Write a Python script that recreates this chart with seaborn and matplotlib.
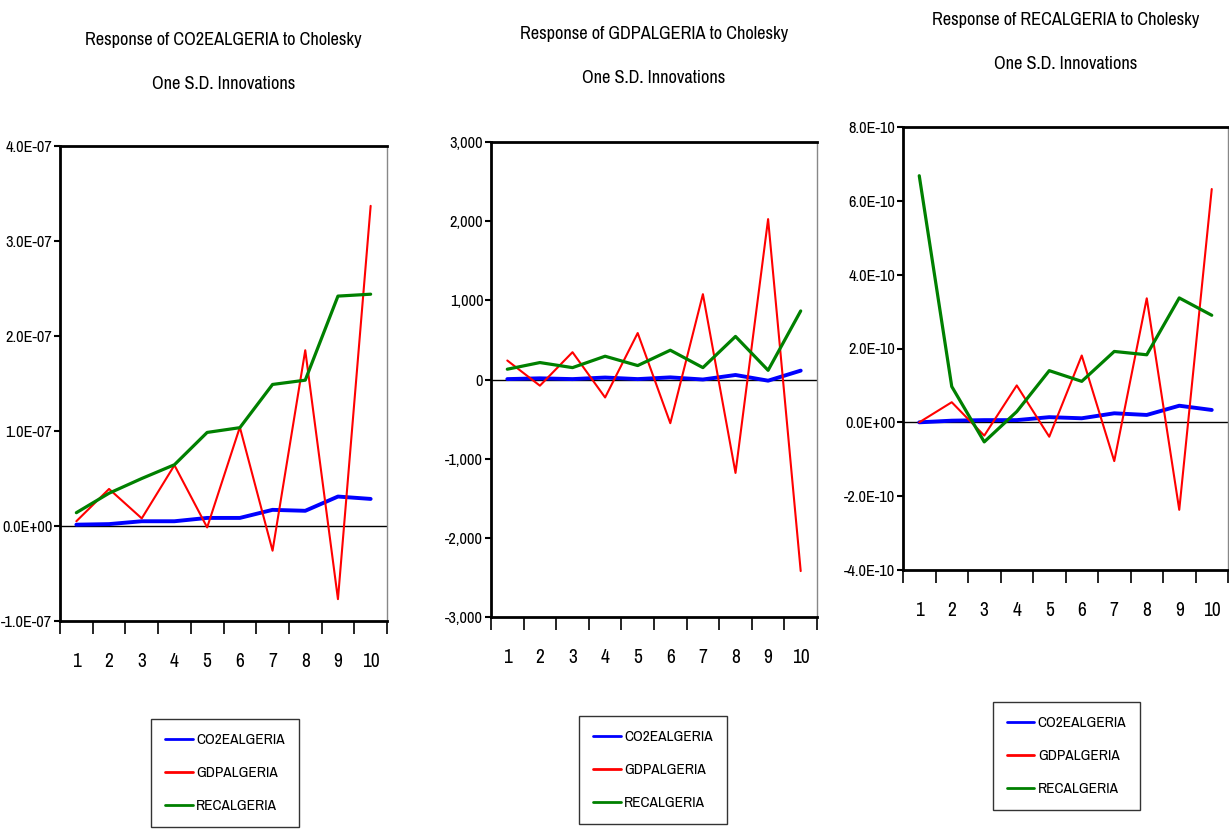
import numpy as np
import pandas as pd
import matplotlib
matplotlib.use("Agg")
import matplotlib.pyplot as plt
import seaborn as sns
from matplotlib.ticker import FuncFormatter

# impulse response data
periods = list(range(1, 11))

co2_resp_co2 = [0.014e-7, 0.02e-7, 0.05e-7, 0.05e-7, 0.085e-7, 0.085e-7, 0.17e-7, 0.16e-7, 0.31e-7, 0.285e-7]
co2_resp_gdp = [0.05e-7, 0.39e-7, 0.08e-7, 0.64e-7, -0.015e-7, 1.04e-7, -0.26e-7, 1.85e-7, -0.77e-7, 3.37e-7]
co2_resp_rec = [0.14e-7, 0.345e-7, 0.5e-7, 0.645e-7, 0.985e-7, 1.035e-7, 1.49e-7, 1.535e-7, 2.42e-7, 2.44e-7]

gdp_resp_co2 = [5, 15, 5, 25, 5, 27, 0, 57, -15, 112]
gdp_resp_gdp = [240, -78, 345, -227, 587, -552, 1078, -1180, 2026, -2420]
gdp_resp_rec = [130, 214, 150, 294, 176, 370, 150, 544, 116, 866]

rec_resp_co2 = [0.0, 0.045e-10, 0.06e-10, 0.06e-10, 0.14e-10, 0.11e-10, 0.245e-10, 0.2e-10, 0.45e-10, 0.335e-10]
rec_resp_gdp = [0.0, 0.545e-10, -0.36e-10, 1.0e-10, -0.39e-10, 1.81e-10, -1.05e-10, 3.36e-10, -2.37e-10, 6.32e-10]
rec_resp_rec = [6.68e-10, 0.97e-10, -0.53e-10, 0.29e-10, 1.40e-10, 1.11e-10, 1.92e-10, 1.83e-10, 3.37e-10, 2.9e-10]

series_names = ["CO2EALGERIA", "GDPALGERIA", "RECALGERIA"]
colors = {"CO2EALGERIA": "#0000ff", "GDPALGERIA": "#ff0000", "RECALGERIA": "#008000"}
widths = {"CO2EALGERIA": 2.8, "GDPALGERIA": 1.5, "RECALGERIA": 2.3}

sns.set_theme(style="white")
# narrow face, close to the Arial Narrow used by EViews
plt.rcParams['font.family'] = ['Archivo Narrow', 'Liberation Sans', 'DejaVu Sans']
plt.rcParams['text.color'] = 'black'
plt.rcParams['xtick.color'] = 'black'
plt.rcParams['ytick.color'] = 'black'


def sci_fmt(v, pos):
    return f"{v:.1E}"


def comma_fmt(v, pos):
    return f"{v:,.0f}"


panels = [
    {
        "title": "Response of CO2EALGERIA to Cholesky\nOne S.D. Innovations",
        "values": [co2_resp_co2, co2_resp_gdp, co2_resp_rec],
        "ylim": (-1e-7, 4e-7), "yticks": np.arange(-1e-7, 4.01e-7, 1e-7),
        "fmt": sci_fmt,
        "rect": [60, 146, 387, 621],
        "title_y": 40, "legend": (160, 713, 290, 833),
    },
    {
        "title": "Response of GDPALGERIA to Cholesky\nOne S.D. Innovations",
        "values": [gdp_resp_co2, gdp_resp_gdp, gdp_resp_rec],
        "ylim": (-3000, 3000), "yticks": np.arange(-3000, 3001, 1000),
        "fmt": comma_fmt,
        "rect": [491, 142, 817, 617],
        "title_y": 34, "legend": (588, 710, 718, 830),
    },
    {
        "title": "Response of RECALGERIA to Cholesky\nOne S.D. Innovations",
        "values": [rec_resp_co2, rec_resp_gdp, rec_resp_rec],
        "ylim": (-4e-10, 8e-10), "yticks": np.arange(-4e-10, 8.01e-10, 2e-10),
        "fmt": sci_fmt,
        "rect": [903, 127, 1228, 570],
        "title_y": 20, "legend": (1003, 697, 1130, 815),
    },
]

W, H = 1229, 835
fig = plt.figure(figsize=(W / 100, H / 100), dpi=100)

for p in panels:
    l, t, r, b = p["rect"]
    ax = fig.add_axes([l / W, 1 - b / H, (r - l) / W, (b - t) / H])
    frames = []
    for name, vals in zip(series_names, p["values"]):
        frames.append(pd.DataFrame({"period": periods, "value": vals, "series": name}))
    df = pd.concat(frames, ignore_index=True)
    for name in series_names:
        sub = df[df["series"] == name]
        sns.lineplot(data=sub, x="period", y="value", color=colors[name],
                     lw=widths[name], ax=ax, label=name, legend=False)
    ax.axhline(0, color="black", lw=1, zorder=0.5)

    ax.set_xlim(0.5, 10.5)
    ax.set_ylim(*p["ylim"])
    ax.set_xticks(periods)
    ax.set_xticks(np.arange(0.5, 10.6, 1), minor=True)
    ax.tick_params(axis="x", which="major", length=0, pad=22, labelsize=14)
    ax.tick_params(axis="x", which="minor", length=9.5, width=1.2, direction="out",
                   bottom=True, color="black")
    ax.set_yticks(p["yticks"])
    ax.yaxis.set_major_formatter(FuncFormatter(p["fmt"]))
    ax.tick_params(axis="y", length=4, width=1.5, direction="out", left=True,
                   labelsize=11.8, pad=1.5, color="black")
    ax.set_xlabel("")
    ax.set_ylabel("")
    for side in ["top", "bottom", "left"]:
        ax.spines[side].set_color("black")
        ax.spines[side].set_linewidth(2)
    ax.spines["right"].set_color("#888888")
    ax.spines["right"].set_linewidth(1)

    cx = (l + r) / 2 / W
    line1, line2 = p["title"].split("\n")
    fig.text(cx, 1 - p["title_y"] / H, line1, ha="center", va="center", fontsize=13.2)
    fig.text(cx, 1 - (p["title_y"] + 44) / H, line2, ha="center", va="center", fontsize=13.2)

    lx0, ly0, lx1, ly1 = p["legend"]
    handles, labels = ax.get_legend_handles_labels()
    leg = fig.legend(handles, labels, loc="center",
                     bbox_to_anchor=((lx0 + lx1) / 2 / W, 1 - (ly0 + ly1) / 2 / H),
                     fontsize=11, frameon=True, fancybox=False, edgecolor="black",
                     handlelength=1.8, handletextpad=0.25, labelspacing=1.25,
                     borderpad=0.9, borderaxespad=0)
    leg.get_frame().set_linewidth(1)
    for lh in leg.get_lines():
        lh.set_linewidth(2)

fig.savefig("out.png", dpi=100)
